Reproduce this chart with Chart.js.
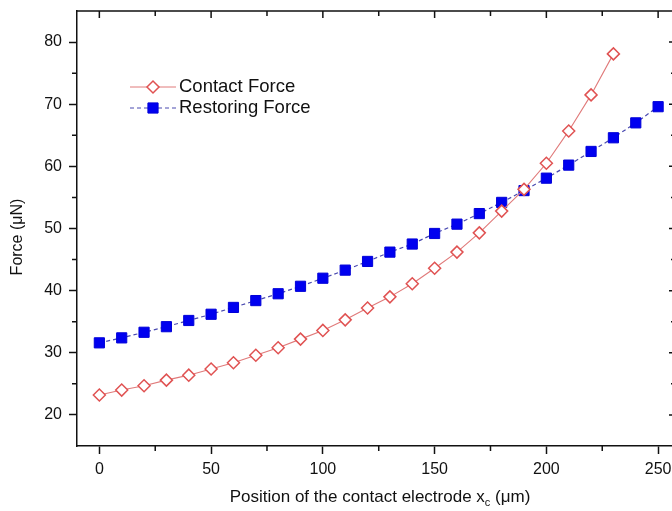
<!DOCTYPE html>
<html>
<head>
<meta charset="utf-8">
<script src="https://cdn.jsdelivr.net/npm/chart.js@4.4.1/dist/chart.umd.min.js"></script>
<style>
  html, body { margin: 0; padding: 0; background: #fff; overflow: hidden; }
  #wrap { width: 672px; height: 511px; overflow: hidden; }
  canvas { display: block; }
</style>
</head>
<body>
<div id="wrap"><canvas id="forceChart" width="700" height="511"></canvas></div>
<script>
// --- data ---
const contactX = [0, 10, 20, 30, 40, 50, 60, 70, 80, 90, 100, 110, 120, 130, 140, 150, 160, 170, 180, 190, 200, 210, 220, 230];
const contactForce = [23.2, 24.0, 24.7, 25.6, 26.4, 27.4, 28.4, 29.6, 30.8, 32.2, 33.6, 35.3, 37.2, 39.0, 41.1, 43.6, 46.2, 49.3, 52.8, 56.3, 60.5, 65.7, 71.5, 78.1];

const restoringX = [0, 10, 20, 30, 40, 50, 60, 70, 80, 90, 100, 110, 120, 130, 140, 150, 160, 170, 180, 190, 200, 210, 220, 230, 240, 250];
const restoringForce = [31.6, 32.4, 33.3, 34.2, 35.2, 36.2, 37.3, 38.4, 39.5, 40.7, 42.0, 43.3, 44.7, 46.2, 47.5, 49.2, 50.7, 52.4, 54.2, 56.1, 58.1, 60.2, 62.4, 64.6, 67.0, 69.6];

const xTicks = [0, 50, 100, 150, 200, 250];
const xMinor = [25, 75, 125, 175, 225];
const yTicks = [20, 30, 40, 50, 60, 70, 80];
const yMinor = [25, 35, 45, 55, 65, 75];

const FONT = '"Liberation Sans", Arial, sans-serif';

// frame, minor ticks, axis titles and the inside legend
const decorations = {
    id: 'decorations',
    afterDraw(chart) {
        const { ctx, chartArea: a, scales: { x, y } } = chart;
        ctx.save();
        ctx.strokeStyle = '#111';
        ctx.lineWidth = 1.5;

        // top and right border
        ctx.beginPath();
        ctx.moveTo(a.left, a.top);
        ctx.lineTo(a.right, a.top);
        ctx.lineTo(a.right, a.bottom);
        ctx.stroke();

        ctx.beginPath();
        xMinor.forEach(v => {
            const px = x.getPixelForValue(v);
            ctx.moveTo(px, a.bottom); ctx.lineTo(px, a.bottom + 5);
        });
        xTicks.concat(xMinor).forEach(v => {
            const px = x.getPixelForValue(v);
            ctx.moveTo(px, a.top); ctx.lineTo(px, a.top + (xTicks.includes(v) ? 7 : 5));
        });
        yMinor.forEach(v => {
            const py = y.getPixelForValue(v);
            ctx.moveTo(a.left, py); ctx.lineTo(a.left - 5, py);
        });
        yTicks.concat(yMinor).forEach(v => {
            const py = y.getPixelForValue(v);
            ctx.moveTo(a.right, py); ctx.lineTo(a.right - (yTicks.includes(v) ? 7 : 5), py);
        });
        ctx.stroke();

        // x axis title with subscript c
        ctx.fillStyle = '#111';
        ctx.textBaseline = 'middle';
        const main = '17px ' + FONT, sub = '11px ' + FONT;
        const p1 = 'Position of the contact electrode x', p2 = 'c', p3 = ' (\u03bcm)';
        ctx.font = main;
        const w1 = ctx.measureText(p1).width, w3 = ctx.measureText(p3).width;
        ctx.font = sub;
        const w2 = ctx.measureText(p2).width;
        let tx = 380 - (w1 + w2 + w3) / 2;
        const ty = 497;
        ctx.textAlign = 'left';
        ctx.font = main; ctx.fillText(p1, tx, ty); tx += w1;
        ctx.font = sub; ctx.fillText(p2, tx, ty + 6); tx += w2;
        ctx.font = main; ctx.fillText(p3, tx, ty);

        // y axis title
        ctx.save();
        ctx.translate(18, 237);
        ctx.rotate(-Math.PI / 2);
        ctx.textAlign = 'center';
        ctx.font = '16px ' + FONT;
        ctx.fillText('Force (\u03bcN)', 0, 0);
        ctx.restore();

        // legend, drawn inside the plot
        const rows = [87, 108];
        chart.data.datasets.forEach((ds, i) => {
            const ly = rows[i];
            ctx.save();
            ctx.strokeStyle = ds.borderColor;
            ctx.lineWidth = 1;
            ctx.setLineDash(ds.borderDash || []);
            ctx.beginPath();
            ctx.moveTo(130, ly); ctx.lineTo(176, ly);
            ctx.stroke();
            ctx.restore();

            ctx.save();
            ctx.fillStyle = ds.pointBackgroundColor;
            ctx.strokeStyle = ds.pointBorderColor;
            ctx.lineWidth = ds.pointBorderWidth;
            ctx.beginPath();
            if (ds.pointStyle === 'rectRot') {
                const r = ds.pointRadius;
                ctx.moveTo(153 - r, ly); ctx.lineTo(153, ly - r); ctx.lineTo(153 + r, ly); ctx.lineTo(153, ly + r);
                ctx.closePath();
            } else {
                const s = ds.pointRadius * Math.SQRT1_2;
                ctx.rect(153 - s, ly - s, 2 * s, 2 * s);
            }
            ctx.fill(); ctx.stroke();
            ctx.restore();

            ctx.fillStyle = '#111';
            ctx.font = '18.5px ' + FONT;
            ctx.textAlign = 'left';
            ctx.fillText(ds.label, 179, ly);
        });
        ctx.restore();
    }
};

const ctx = document.getElementById('forceChart').getContext('2d');
const forceChart = new Chart(ctx, {
    type: 'line',
    data: {
        datasets: [{
            label: 'Contact Force',
            data: contactX.map((v, i) => ({ x: v, y: contactForce[i] })),
            borderColor: '#e07a7a',
            borderWidth: 1.1,
            pointStyle: 'rectRot',
            pointRadius: 6,
            pointBorderWidth: 1.5,
            pointBorderColor: '#e05252',
            pointBackgroundColor: '#ffffff',
            tension: 0
        }, {
            label: 'Restoring Force',
            data: restoringX.map((v, i) => ({ x: v, y: restoringForce[i] })),
            borderColor: '#4a4ab0',
            borderWidth: 1.2,
            borderDash: [4, 3],
            pointStyle: 'rect',
            pointRadius: 7.2,
            pointBorderWidth: 1,
            pointBorderColor: '#0000d8',
            pointBackgroundColor: '#0000f0',
            tension: 0
        }]
    },
    options: {
        responsive: false,
        animation: false,
        events: [],
        layout: { padding: { top: 11, right: 24, left: 0, bottom: 0 } },
        plugins: { legend: { display: false }, tooltip: { enabled: false } },
        scales: {
            x: {
                type: 'linear',
                min: -10,
                max: 258,
                afterBuildTicks: s => { s.ticks = xTicks.map(v => ({ value: v })); },
                afterFit: s => { s.height = 65; s.paddingLeft = 0; s.paddingRight = 0; },
                grid: { drawOnChartArea: false, tickLength: 8, tickWidth: 1.5, tickColor: '#111' },
                border: { color: '#111', width: 1.5 },
                ticks: { color: '#111', padding: 6, font: { family: FONT, size: 16 } }
            },
            y: {
                min: 15,
                max: 85,
                afterBuildTicks: s => { s.ticks = yTicks.map(v => ({ value: v })); },
                afterFit: s => { s.width = 77; s.paddingTop = 0; s.paddingBottom = 0; },
                grid: { drawOnChartArea: false, tickLength: 8, tickWidth: 1.5, tickColor: '#111' },
                border: { color: '#111', width: 1.5 },
                ticks: { color: '#111', padding: 7, font: { family: FONT, size: 16 } }
            }
        }
    },
    plugins: [decorations]
});
</script>
</body>
</html>
